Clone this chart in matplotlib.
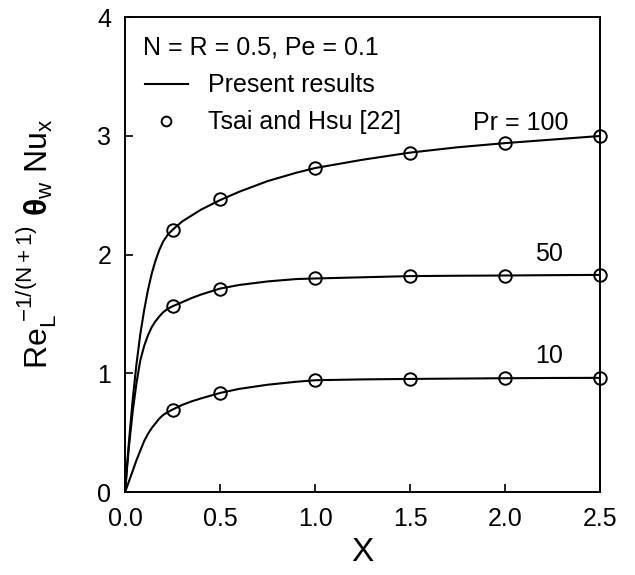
import numpy as np
import matplotlib
matplotlib.use("Agg")
import matplotlib.pyplot as plt

plt.rcParams['font.family'] = ['Liberation Sans', 'DejaVu Sans']
plt.rcParams['mathtext.fontset'] = 'custom'
plt.rcParams['mathtext.rm'] = 'Liberation Sans'
plt.rcParams['mathtext.it'] = 'Liberation Sans:italic'
plt.rcParams['mathtext.bf'] = 'Liberation Sans:bold'

# curves (present results)
x_curve = [0.0, 0.01, 0.02, 0.04, 0.06, 0.08, 0.10, 0.12, 0.14, 0.16, 0.18, 0.20,
           0.225, 0.25, 0.3, 0.35, 0.4, 0.5, 0.6, 0.75, 0.9, 1.0, 1.25, 1.5,
           1.75, 2.0, 2.25, 2.5]
pr100_curve = [0.0, 0.22, 0.42, 0.78, 1.08, 1.33, 1.53, 1.70, 1.84, 1.95, 2.04, 2.11,
               2.17, 2.21, 2.28, 2.33, 2.38, 2.46, 2.53, 2.62, 2.69, 2.73, 2.80, 2.86,
               2.905, 2.94, 2.97, 3.0]
pr50_curve = [0.0, 0.2, 0.38, 0.68, 0.92, 1.11, 1.23, 1.32, 1.39, 1.44, 1.48, 1.515,
              1.545, 1.566, 1.60, 1.635, 1.665, 1.715, 1.745, 1.775, 1.795, 1.80, 1.81, 1.82,
              1.823, 1.825, 1.828, 1.83]
pr10_curve = [0.0, 0.045, 0.09, 0.18, 0.27, 0.35, 0.43, 0.49, 0.54, 0.58, 0.62, 0.65,
              0.675, 0.696, 0.735, 0.765, 0.79, 0.836, 0.87, 0.905, 0.93, 0.943, 0.95, 0.954,
              0.957, 0.96, 0.962, 0.963]

# Tsai and Hsu [22]
x_ref = [0.25, 0.5, 1.0, 1.5, 2.0, 2.5]
pr100_ref = [2.21, 2.47, 2.73, 2.86, 2.94, 3.0]
pr50_ref = [1.566, 1.715, 1.80, 1.82, 1.825, 1.83]
pr10_ref = [0.696, 0.836, 0.945, 0.954, 0.96, 0.963]

fig = plt.figure(figsize=(6.35, 5.75), dpi=100)
ax = fig.add_axes([0.197, 0.144, 0.748, 0.826])

for yc, yr in [(pr100_curve, pr100_ref), (pr50_curve, pr50_ref), (pr10_curve, pr10_ref)]:
    ax.plot(x_curve, yc, color='black', lw=1.5, solid_joinstyle='round')
    ax.plot(x_ref, yr, 'o', mfc='none', mec='black', mew=1.4, ms=9, clip_on=False)

ax.text(2.08, 3.11, 'Pr = 100', fontsize=18, ha='center', va='center')
ax.text(2.23, 2.01, '50', fontsize=18, ha='center', va='center')
ax.text(2.23, 1.15, '10', fontsize=18, ha='center', va='center')

# parameter note + legend
ax.text(0.037, 0.937, 'N = R = 0.5, Pe = 0.1', transform=ax.transAxes,
        fontsize=18, ha='left', va='center')
line_h, = ax.plot([], [], color='black', lw=1.5)
mark_h, = ax.plot([], [], 'o', mfc='none', mec='black', mew=1.4, ms=7)
leg = ax.legend([line_h, mark_h], ['Present results', 'Tsai and Hsu [22]'],
                loc='upper left', bbox_to_anchor=(0.042, 0.882), frameon=False,
                fontsize=18, handlelength=1.7, handletextpad=0.8,
                labelspacing=0.52, borderaxespad=0, borderpad=0)

ax.set_xlim(0, 2.5)
ax.set_ylim(0, 4)
ax.set_xticks([0.0, 0.5, 1.0, 1.5, 2.0, 2.5])
ax.set_xticklabels(['0.0', '0.5', '1.0', '1.5', '2.0', '2.5'])
ax.set_yticks([0, 1, 2, 3, 4])
ax.tick_params(direction='in', length=6, width=1.2, labelsize=18)
ax.tick_params(axis='x', pad=11)
ax.tick_params(axis='y', pad=10)
for s in ax.spines.values():
    s.set_linewidth(1.4)

ax.set_xlabel('X', fontsize=24, labelpad=4)
ax.set_ylabel(r'$\mathrm{Re}_{\mathrm{L}}^{\ \mathrm{-1/(N+1)}}\ \mathbf{\theta}_{\mathrm{w}}\ \mathrm{Nu}_{\mathrm{x}}$',
              fontsize=23)
ax.yaxis.set_label_coords(-0.14, 0.523)

fig.savefig('out.png', dpi=100)
